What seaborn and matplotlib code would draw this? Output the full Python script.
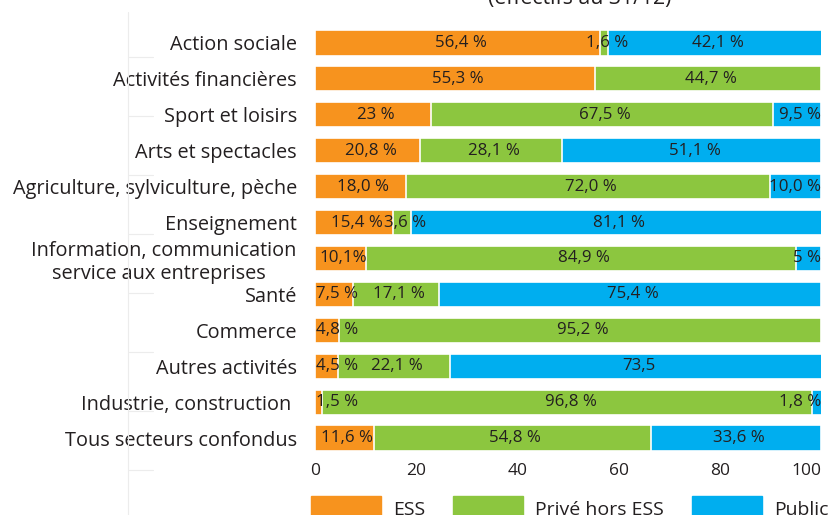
import numpy as np
import matplotlib.pyplot as plt
import matplotlib.lines as mlines
import matplotlib.patches as mpatches
import pandas as pd
import seaborn as sns

secteurs = ["Action sociale", "Activités financières", "Sport et loisirs",
            "Arts et spectacles", "Agriculture, sylviculture, pèche",
            "Enseignement",
            "Information, communication\nservice aux entreprises      ",
            "Santé", "Commerce", "Autres activités",
            "Industrie, construction ", "Tous secteurs confondus"]
ess = [56.4, 55.3, 23.0, 20.8, 18.0, 15.4, 10.1, 7.5, 4.8, 4.5, 1.5, 11.6]
prive = [1.6, 44.7, 67.5, 28.1, 72.0, 3.6, 84.9, 17.1, 95.2, 22.1, 96.8, 54.8]
public = [42.1, 0.0, 9.5, 51.1, 10.0, 81.1, 5.0, 75.4, 0.0, 73.5, 1.8, 33.6]
lab_ess = ["56,4 %", "55,3 %", "23 %", "20,8 %", "18,0 %", "15,4 %", "10,1%",
           "7,5 %", "4,8 %", "4,5 %", "1,5 %", "11,6 %"]
lab_prive = ["1,6 %", "44,7 %", "67,5 %", "28,1 %", "72,0 %", "3,6 %", "84,9 %",
             "17,1 %", "95,2 %", "22,1 %", "96,8 %", "54,8 %"]
lab_public = ["42,1 %", "", "9,5 %", "51,1 %", "10,0 %", "81,1 %", "5 %",
              "75,4 %", "", "73,5", "1,8 %", "33,6 %"]
groupes = ["ESS", "Privé hors ESS", "Public"]
couleurs = ["#F7931E", "#8CC63F", "#00AEEF"]
ticks_x = [0, 20, 40, 60, 80, 100]

sns.set_style("white")
plt.rcParams['font.family'] = ['Open Sans', 'DejaVu Sans']

df = pd.DataFrame({"secteur": secteurs, "ESS": ess, "Prive": prive, "Public": public})
df["c1"] = df["ESS"]
df["c2"] = df["ESS"] + df["Prive"]
df["c3"] = df["c2"] + df["Public"]

fig, ax = plt.subplots(figsize=(8.33, 5.15), dpi=100)
fig.subplots_adjust(left=0.378, right=0.9856, bottom=0.1146, top=0.9515)

# stacked bars drawn as overlapping cumulative totals
for col, c in zip(["c3", "c2", "c1"], couleurs[::-1]):
    sns.barplot(data=df, x=col, y="secteur", color=c, width=0.7, saturation=1,
                edgecolor="white", linewidth=1.2, ax=ax, orient="h")

ax.set_xlim(0, 100)
ax.set_ylim(11.5, -0.5)
ax.set_xlabel("")
ax.set_ylabel("")
ax.set_xticks(ticks_x)
ax.tick_params(axis="x", labelsize=12.5, length=0, pad=5, colors="#231F20")
ax.tick_params(axis="y", labelsize=14.3, length=0, pad=13, colors="#231F20")
ax.get_xticklabels()[-1].set_horizontalalignment("right")
for lbl in ax.get_yticklabels():
    lbl.set_multialignment("right")
sns.despine(ax=ax, left=True, bottom=True)

# segment labels, kept inside the 0-100 range
fig.canvas.draw()
renderer = fig.canvas.get_renderer()
inv = ax.transData.inverted()
for i in range(len(secteurs)):
    starts = [0, ess[i], ess[i] + prive[i]]
    widths = [ess[i], prive[i], public[i]]
    textes = [lab_ess[i], lab_prive[i], lab_public[i]]
    for s, w, t in zip(starts, widths, textes):
        if not t:
            continue
        xc = s + w / 2 + 0.6
        txt = ax.text(xc, i, t, ha="center", va="center",
                      fontsize=12.2, color="#231F20")
        bb = txt.get_window_extent(renderer)
        x0 = inv.transform((bb.x0, 0))[0]
        x1 = inv.transform((bb.x1, 0))[0]
        if x0 < 0.2:
            txt.set_x(xc + (0.2 - x0))
        elif x1 > 100:
            txt.set_x(xc - (x1 - 100))

fig.text(0.696, 0.992, "(effectifs au 31/12)", ha="center", va="baseline",
         fontsize=15.3, color="#231F20")

# faint guide line on the left
fig.add_artist(mlines.Line2D([128 / 833, 128 / 833], [0, 1 - 12 / 515],
                             color="#ececec", lw=0.8))
for yy in np.arange(57, 515, 59):
    fig.add_artist(mlines.Line2D([128 / 833, 153 / 833], [1 - yy / 515] * 2,
                                 color="#ececec", lw=0.8))

handles = [mpatches.Patch(color=c, label=g) for c, g in zip(couleurs, groupes)]
leg = fig.legend(handles=handles, loc="upper left", ncol=3, frameon=False,
                 bbox_to_anchor=(311 / 833, 1 - 496 / 515), fontsize=14,
                 handlelength=3.6, handleheight=1.7, handletextpad=0.62,
                 columnspacing=1.45, borderaxespad=0, borderpad=0)
for t in leg.get_texts():
    t.set_color("#231F20")

fig.savefig("out.png", dpi=100)
